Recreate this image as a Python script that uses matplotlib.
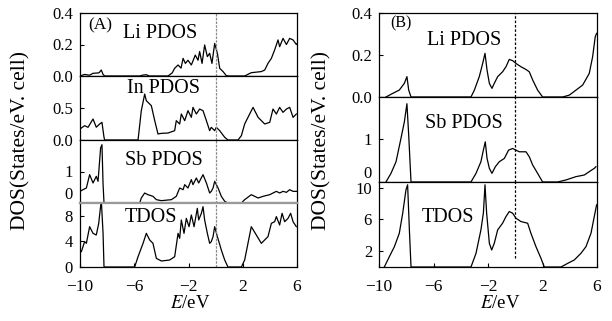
import matplotlib
matplotlib.use("Agg")
import matplotlib.pyplot as plt

plt.rcParams['font.family'] = ['Liberation Serif', 'DejaVu Serif']
plt.rcParams['mathtext.fontset'] = 'stix'

# ---- panel (A) data ----
li_a_e = [-10, -9.66, -9.3, -9.04, -8.6, -8.43, -8.3, -8.18, -5.6, -5.35, -5.1, -4.9,
          -3.51, -3.2, -3.02, -2.77, -2.55, -2.40, -2.23, -2.04, -1.79, -1.50, -1.30, -1.18,
          -1.00, -0.81, -0.61, -0.44, -0.27, -0.07, 0.13, 0.30, 0.55, 0.79, 1.0, 2.14, 2.63,
          3.37, 3.62, 3.86, 4.11, 4.35, 4.60, 4.72, 4.97, 5.22, 5.46, 5.71, 5.95, 6.0]
li_a_v = [0.0, 0.01, 0.005, 0.017, 0.02, 0.038, 0.01, 0.0, 0.0, 0.006, 0.008, 0.0,
          0.0, 0.02, 0.049, 0.07, 0.05, 0.112, 0.08, 0.10, 0.07, 0.133, 0.10, 0.155,
          0.08, 0.197, 0.123, 0.144, 0.08, 0.207, 0.144, 0.049, 0.028, 0.002, 0.0, 0.0, 0.021,
          0.028, 0.038, 0.08, 0.112, 0.165, 0.229, 0.186, 0.239, 0.2, 0.239, 0.229, 0.2, 0.205]

in_a_e = [-10, -9.66, -9.41, -9.04, -8.80, -8.55, -8.38, -8.23, -8.18, -5.72, -5.48, -5.23,
          -5.11, -4.86, -4.74, -4.49, -4.25, -4.0, -3.51, -3.02, -2.90, -2.65, -2.53, -2.28,
          -2.04, -1.79, -1.67, -1.42, -1.18, -0.93, -0.68, -0.44, -0.32, -0.07, 0.05, 0.30,
          0.67, 0.91, 1.65, 1.90, 2.14, 2.51, 2.76, 3.13, 3.62, 3.99, 4.23, 4.48, 4.72, 4.97,
          5.22, 5.46, 5.71, 5.95]
in_a_v = [0.172, 0.224, 0.198, 0.328, 0.20, 0.25, 0.276, 0.042, 0.0, 0.0, 0.458, 0.718,
          0.614, 0.562, 0.536, 0.302, 0.094, 0.104, 0.109, 0.146, 0.302, 0.25, 0.406, 0.302,
          0.458, 0.354, 0.51, 0.406, 0.484, 0.458, 0.302, 0.146, 0.198, 0.146, 0.198, 0.146,
          0.042, 0.0, 0.0, 0.068, 0.25, 0.406, 0.51, 0.354, 0.25, 0.276, 0.484, 0.406, 0.51,
          0.432, 0.484, 0.51, 0.354, 0.406]

sb_a_e = [-10, -9.78, -9.53, -9.29, -9.04, -8.80, -8.67, -8.48, -8.38, -8.30, -8.23, -5.60,
          -5.48, -5.23, -4.99, -4.62, -4.37, -4.0, -3.26, -2.90, -2.65, -2.40, -2.28, -2.04,
          -1.79, -1.67, -1.42, -1.25, -0.93, -0.68, -0.44, -0.32, -0.19, -0.07, 0.18, 0.42,
          0.67, 0.91, 1.90, 2.14, 2.63, 3.13, 3.50, 3.99, 4.23, 4.48, 4.72, 4.97, 5.22, 5.46,
          5.71, 6.0]
sb_a_v = [0.37, 0.423, 0.476, 0.90, 0.635, 0.846, 0.688, 1.75, 1.85, 0.6, 0.0, 0.0,
          0.159, 0.317, 0.264, 0.212, 0.106, 0.074, 0.106, 0.212, 0.476, 0.423, 0.582, 0.476,
          0.741, 0.582, 0.794, 0.635, 0.90, 0.635, 0.317, 0.37, 0.476, 0.688, 0.476, 0.212,
          0.053, 0.0, 0.0, 0.106, 0.264, 0.159, 0.212, 0.264, 0.317, 0.37, 0.317, 0.37, 0.338,
          0.423, 0.37, 0.37]

tdos_a_e = [-10, -9.90, -9.66, -9.53, -9.29, -9.04, -8.80, -8.62, -8.43, -8.30, -8.23, -5.97,
            -5.72, -5.35, -5.11, -4.86, -4.62, -4.37, -4.0, -3.39, -3.02, -2.77, -2.65, -2.53,
            -2.33, -2.16, -1.96, -1.79, -1.59, -1.35, -1.25, -1.05, -0.93, -0.81, -0.61, -0.44,
            -0.32, -0.19, -0.07, 0.13, 0.42, 0.67, 0.91, 1.90, 2.14, 2.63, 3.0, 3.37, 3.86, 4.11,
            4.35, 4.48, 4.72, 4.90, 5.09, 5.34, 5.53, 5.71, 5.95]
tdos_a_v = [2.66, 2.39, 3.96, 3.70, 6.30, 5.26, 5.0, 6.82, 10.5, 5.26, 0.0, 0.0,
            1.61, 3.70, 5.26, 4.22, 3.70, 1.35, 0.94, 1.09, 1.61, 5.26, 4.48, 7.35,
            5.26, 7.6, 6.30, 8.13, 6.30, 9.17, 7.35, 8.39, 9.43, 7.35, 5.26, 3.70,
            3.96, 4.74, 6.30, 4.74, 2.66, 1.09, 0.0, 0.0, 1.09, 6.30, 5.0, 3.70, 4.74, 6.82,
            7.08, 7.87, 6.56, 8.39, 7.08, 7.6, 8.39, 7.08, 6.30]

# ---- panel (B) data ----
li_b_e = [-9.49, -9.0, -8.51, -8.14, -7.95, -7.82, -7.65, -3.25, -3.00, -2.64, -2.39, -2.22,
          -2.07, -1.90, -1.71, -1.54, -1.29, -0.93, -0.68, -0.44, -0.19, 0.05, 0.42, 0.79,
          1.03, 1.28, 1.64, 2.01, 3.48, 3.97, 4.46, 4.95, 5.43, 5.68, 5.87, 5.97]
li_b_v = [0.0, 0.017, 0.033, 0.065, 0.097, 0.033, 0.0, 0.0, 0.033, 0.097, 0.16, 0.208,
          0.128, 0.065, 0.041, 0.065, 0.097, 0.12, 0.144, 0.179, 0.173, 0.16, 0.144, 0.131,
          0.12, 0.081, 0.033, 0.0, 0.0, 0.009, 0.033, 0.057, 0.112, 0.192, 0.287, 0.303]

sb_b_e = [-9.49, -9.12, -8.75, -8.39, -8.14, -7.95, -7.82, -7.65, -3.25, -2.88, -2.52, -2.34,
          -2.20, -2.07, -1.90, -1.71, -1.46, -1.17, -0.80, -0.49, -0.19, 0.05, 0.30, 0.79,
          1.03, 1.28, 1.64, 2.01, 3.11, 3.72, 4.46, 5.07, 5.43, 5.80, 5.92]
sb_b_v = [0.0, 0.204, 0.477, 1.023, 1.413, 1.842, 1.10, 0.0, 0.0, 0.204, 0.477, 0.75,
          0.945, 0.555, 0.321, 0.204, 0.36, 0.477, 0.555, 0.75, 0.789, 0.75, 0.711, 0.711,
          0.594, 0.399, 0.204, 0.0, 0.0, 0.048, 0.126, 0.165, 0.243, 0.321, 0.36]

tdos_b_e = [-9.61, -9.24, -8.87, -8.51, -8.26, -8.02, -7.90, -7.77, -7.65, -3.25, -2.88, -2.52,
            -2.34, -2.22, -2.10, -1.90, -1.73, -1.54, -1.29, -0.93, -0.68, -0.44, -0.19, 0.05,
            0.42, 0.91, 1.15, 1.52, 1.89, 2.13, 3.36, 3.85, 4.33, 4.82, 5.19, 5.56, 5.80, 5.97]
tdos_b_v = [0.0, 1.30, 2.56, 4.25, 6.77, 9.72, 10.35, 4.67, 0.0, 0.0, 1.72, 4.67,
            6.77, 10.35, 6.77, 2.98, 2.14, 2.98, 4.67, 5.51, 6.35, 6.98, 6.77, 6.14,
            5.72, 5.51, 4.25, 2.56, 1.09, 0.0, 0.0, 0.46, 0.88, 1.72, 2.56, 4.25, 6.35, 7.82]

x_ticks = [-10, -6, -2, 2, 6]
x_tick_labels = ["\u221210", "\u22126", "\u22122", "2", "6"]

# (label, E, values, ylim, yticks, ytick labels, bottom px, top px, label x, label y)
panels_a = [
    ("Li PDOS", li_a_e, li_a_v, (0, 0.4), [0.0, 0.2, 0.4], ["0.0", "0.2", "0.4"], 76, 13, 0.198, 0.68),
    ("In PDOS", in_a_e, in_a_v, (0, 1.0), [0.0, 0.5], ["0.0", "0.5"], 140, 76, 0.215, 0.81),
    ("Sb PDOS", sb_a_e, sb_a_v, (0, 2.0), [0, 1], ["0", "1"], 203, 140, 0.207, 0.68),
    ("TDOS", tdos_a_e, tdos_a_v, (0, 10.0), [0, 4, 8], ["0", "4", "8"], 267, 203, 0.207, 0.77),
]
panels_b = [
    ("Li PDOS", li_b_e, li_b_v, (0, 0.4), [0.0, 0.2, 0.4], ["0.0", "0.2", "0.4"], 97, 13, 0.22, 0.67),
    ("Sb PDOS", sb_b_e, sb_b_v, (0, 2.0), [0, 1], ["0", "1"], 182, 97, 0.21, 0.69),
    ("TDOS", tdos_b_e, tdos_b_v, (0, 10.7), [2, 6, 10], ["2", "6", "10"], 267, 182, 0.197, 0.58),
]

W, H = 612, 321
fig = plt.figure(figsize=(W / 100, H / 100), dpi=100)


def draw_panel(panels, left, right):
    axes = []
    n = len(panels)
    for i, (name, e, v, ylim, yt, ytl, bot, top, lx, ly) in enumerate(panels):
        ax = fig.add_axes([left / W, 1 - bot / H, (right - left) / W, (bot - top) / H])
        ax.plot(e, v, color="black", lw=0.9)
        ax.set_xlim(-10, 6)
        ax.set_ylim(*ylim)
        ax.set_yticks(yt)
        ax.set_yticklabels(ytl)
        ax.tick_params(axis="y", direction="in", length=3, labelsize=12, pad=5)
        ax.set_xticks(x_ticks)
        if i == n - 1:
            ax.set_xticklabels(x_tick_labels)
            ax.tick_params(axis="x", direction="in", length=3, labelsize=12.5, pad=8.5)
        else:
            ax.tick_params(axis="x", bottom=False, labelbottom=False)
        for s in ax.spines.values():
            s.set_linewidth(0.9)
        ax.text(lx, ly, name, transform=ax.transAxes, fontsize=14.5,
                va="center", ha="left")
        axes.append(ax)
    return axes


axA = draw_panel(panels_a, 80, 297)
axB = draw_panel(panels_b, 379, 597)

# lift the "0" labels that sit on a subpanel boundary
for ax in (axA[2], axB[1]):
    ax.get_yticklabels()[0].set_verticalalignment("bottom")

# Fermi level markers
for ax in axA:
    ax.axvline(0, color="#8a8a8a", lw=0.9, ls=(0, (2, 1)))
for i, ax in enumerate(axB):
    ymin = 0.106 if i == len(axB) - 1 else 0
    ax.axvline(0, ymin=ymin, color="black", lw=0.9, ls=(0, (2, 1.5)))

# gray separator between Sb and TDOS in (A)
axA[2].spines["bottom"].set_color("#999999")
axA[2].spines["bottom"].set_linewidth(1.6)
axA[3].spines["top"].set_color("#999999")
axA[3].spines["top"].set_linewidth(1.6)

axA[0].text(0.04, 0.81, "(A)", transform=axA[0].transAxes, fontsize=12.5, va="center")
axB[0].text(0.05, 0.88, "(B)", transform=axB[0].transAxes, fontsize=11.5, va="center")

fig.text(21 / W, 1 - 140 / H, "DOS(States/eV. cell)", rotation=90,
         ha="center", va="center", fontsize=15.5)
fig.text(322 / W, 1 - 140 / H, "DOS(States/eV. cell)", rotation=90,
         ha="center", va="center", fontsize=15.5)
fig.text(190 / W, 1 - 304 / H, "$E$/eV", ha="center", va="center", fontsize=13.5)
fig.text(500 / W, 1 - 304 / H, "$E$/eV", ha="center", va="center", fontsize=13.5)

fig.savefig("out.png", dpi=100)
